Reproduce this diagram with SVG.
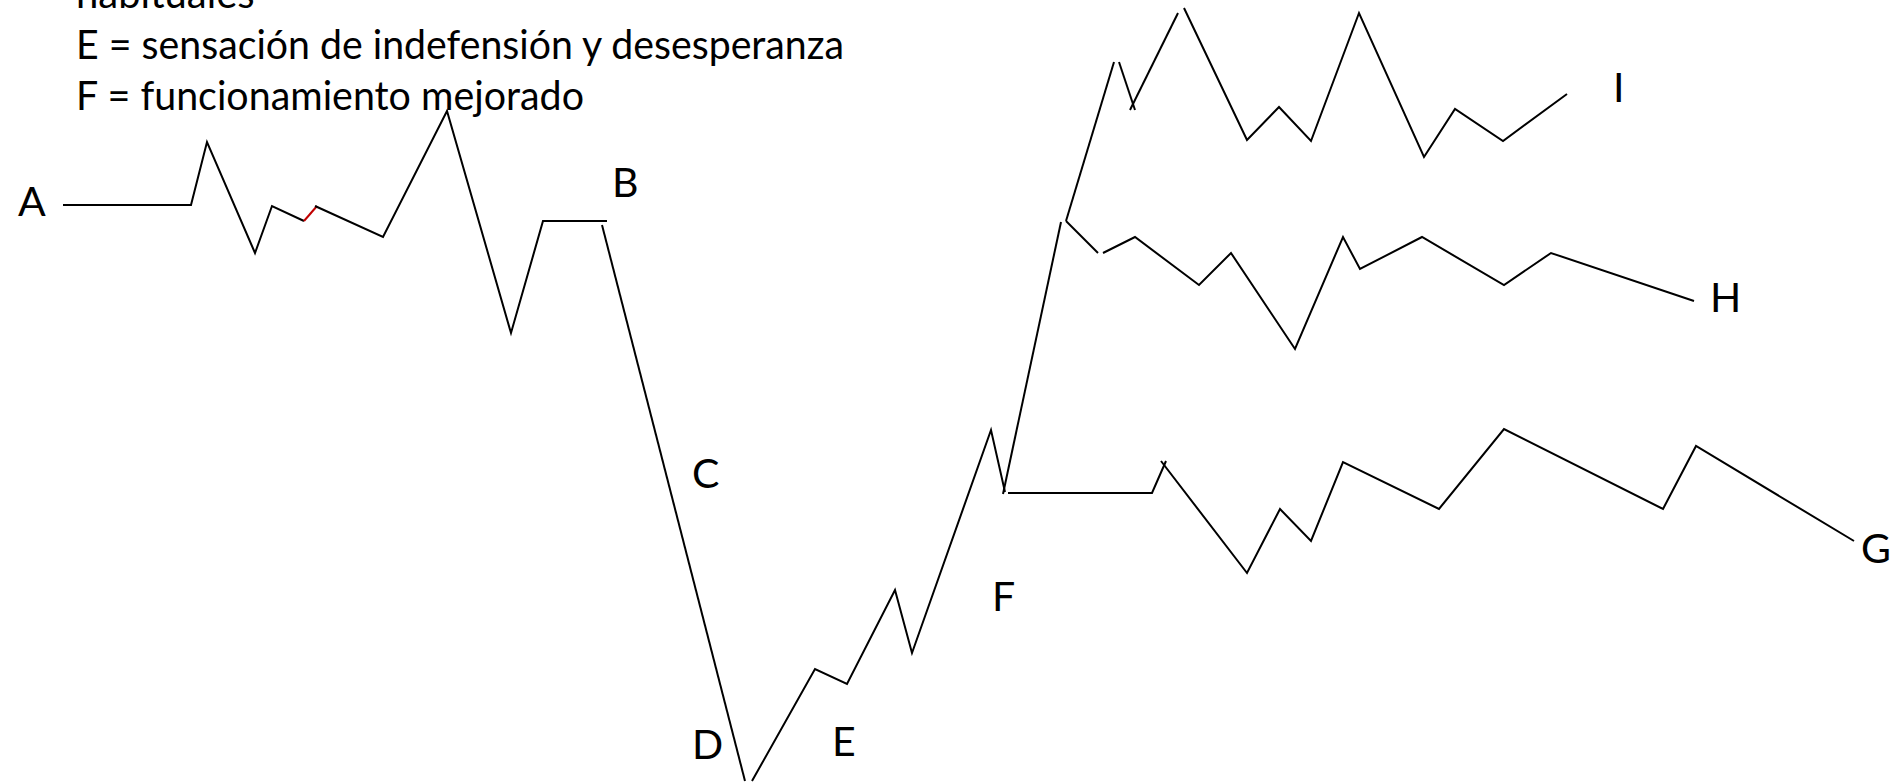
<svg xmlns="http://www.w3.org/2000/svg" width="1890" height="783" viewBox="0 0 1890 783">
<style>
.t{font-family:Lato,"Open Sans","Liberation Sans",sans-serif;font-size:41px;fill:#000}
.tb{font-family:Lato,"Open Sans","Liberation Sans",sans-serif;font-size:40px;fill:#000}
.ln{fill:none;stroke:#000;stroke-width:2;stroke-linejoin:miter;stroke-linecap:butt}
.red{fill:none;stroke:#c00000;stroke-width:2}
</style>
<rect width="1890" height="783" fill="#fff"/>
<g id="legend">
<text class="tb" x="76" y="8">habituales</text>
<text class="tb" x="76" y="59" textLength="768" lengthAdjust="spacingAndGlyphs">E = sensación de indefensión y desesperanza</text>
<text class="tb" x="76" y="110" textLength="508" lengthAdjust="spacingAndGlyphs">F = funcionamiento mejorado</text>
</g>
<g id="label-A"><text class="t" x="18" y="216">A</text></g>
<g id="label-B"><text class="t" x="612" y="197">B</text></g>
<g id="label-C"><text class="t" x="692" y="488">C</text></g>
<g id="label-D"><text class="t" x="692" y="759">D</text></g>
<g id="label-E"><text class="t" x="832" y="756">E</text></g>
<g id="label-F"><text class="t" x="992" y="611">F</text></g>
<g id="label-G"><text class="t" x="1861" y="563">G</text></g>
<g id="label-H"><text class="t" x="1710" y="312">H</text></g>
<g id="label-I"><text class="t" x="1613" y="102">I</text></g>
<g id="connectors">
<path class="ln" d="M63,205 L191,205 L207,142 L255,253 L272,206 L304,221"/>
<path class="red" d="M304,221 L317,206"/>
<path class="ln" d="M315,206 L383,237 L447,111 L511,333 L543,221 L607,221"/>
<path class="ln" d="M602,225 L745,781"/>
<path class="ln" d="M752,781 L815,669 L847,684 L895,590 L912,653 L991,430 L1005,492"/>
<path class="ln" d="M1003,494 L1061,222"/>
<path class="ln" d="M1008,493 L1152,493 L1166,461"/>
<path class="ln" d="M1161,461 L1247,573 L1280,509 L1311,541 L1343,462 L1439,509 L1504,429 L1663,509 L1696,446 L1854,541"/>
<path class="ln" d="M1066,221 L1114,62"/>
<path class="ln" d="M1119,62 L1135,110"/>
<path class="ln" d="M1130,110 L1178,13"/>
<path class="ln" d="M1184,8 L1247,140 L1279,107 L1311,141 L1359,13 L1424,157 L1455,109 L1503,141 L1567,94"/>
<path class="ln" d="M1066,221 L1098,253"/>
<path class="ln" d="M1103,253 L1135,237 L1199,285 L1231,253 L1295,349 L1343,237 L1360,269 L1422,237 L1504,285 L1551,253 L1694,301"/>
</g>
</svg>
